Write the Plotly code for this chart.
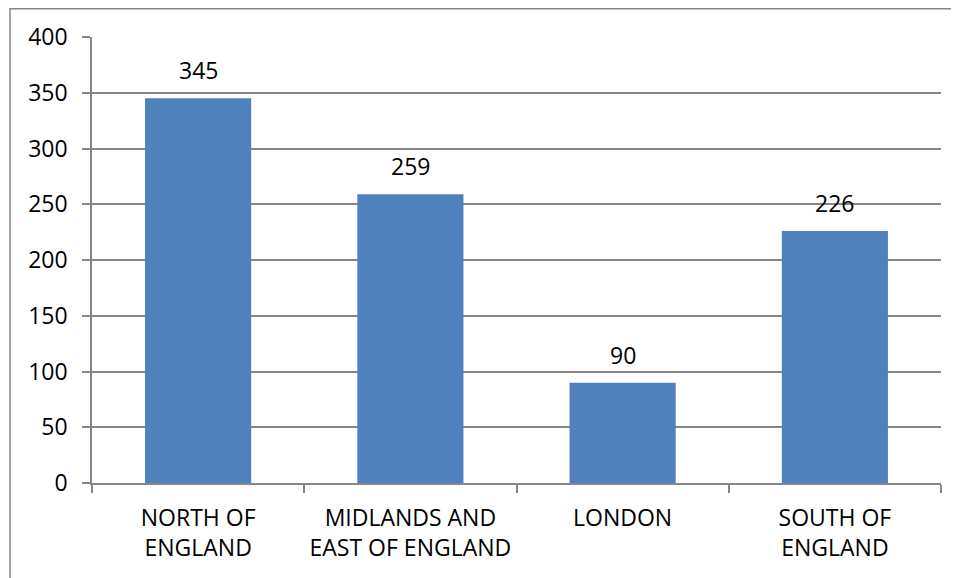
import plotly.graph_objects as go

categories = ["NORTH OF<br>ENGLAND", "MIDLANDS AND<br>EAST OF ENGLAND", "LONDON", "SOUTH OF<br>ENGLAND"]
values = [345, 259, 90, 226]
y_ticks = [0, 50, 100, 150, 200, 250, 300, 350, 400]

FONT = "Open Sans"
FS = 23
W, H = 951, 570
L, R, T, B = 84, 18, 29, 95
PW, PH = W - L - R, H - T - B

fig = go.Figure()
fig.add_trace(go.Bar(x=categories, y=values, marker=dict(color="#4F81BD", line=dict(width=0)),
                     width=0.5))

for c, v in zip(categories, values):
    fig.add_annotation(x=c, y=v, text=str(v), showarrow=False, yanchor="bottom", yshift=10,
                       font=dict(family=FONT, size=FS, color="#000000"))

fig.update_layout(
    width=W, height=H,
    margin=dict(l=L, r=R, t=T, b=B, autoexpand=False),
    paper_bgcolor="white", plot_bgcolor="white",
    showlegend=False,
    font=dict(family=FONT, size=FS, color="#000000"),
    xaxis=dict(showline=True, linecolor="#868686", linewidth=1.5, ticks="outside", tickson="boundaries",
               ticklen=8, tickcolor="#868686", tickwidth=1.5, tickfont=dict(size=FS, family=FONT, color="#000000"),
               showgrid=False, ticklabelstandoff=14),
    yaxis=dict(range=[0, 400], tickvals=y_ticks, showline=True, linecolor="#868686", linewidth=1.5,
               ticks="outside", ticklen=8, tickcolor="#868686", tickwidth=1.5, showgrid=True,
               gridcolor="#868686", gridwidth=1.5, zeroline=False,
               tickfont=dict(size=FS, family=FONT, color="#000000"), ticklabelstandoff=10),
)

# outer chart border (partially clipped at right/bottom as in reference)
fig.add_shape(type="rect", xref="paper", yref="paper",
              x0=(2 - L) / PW, x1=(W + 20 - L) / PW,
              y0=-(B + 20) / PH, y1=1 + (T - 0.75) / PH,
              line=dict(color="#868686", width=1.5), layer="below")

fig.write_html("out.html")
